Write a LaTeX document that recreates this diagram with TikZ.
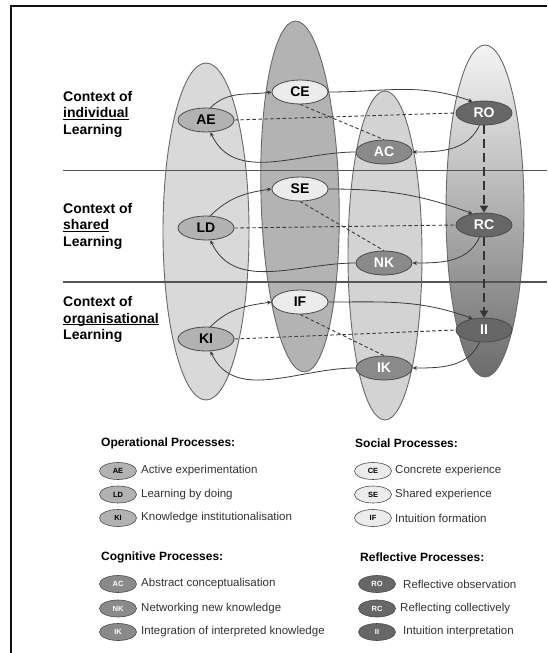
\documentclass[tikz,border=0pt]{standalone}
\usepackage{fontspec}
\setmainfont{Liberation Sans}
\usetikzlibrary{shapes.geometric,arrows.meta}

% palette
\definecolor{framecol}{HTML}{111111}
\definecolor{coledge}{HTML}{6A6A6A}
\definecolor{colA}{HTML}{D9D9D9}
\definecolor{colB}{HTML}{B3B3B3}
\definecolor{colC}{HTML}{D3D3D3}
\definecolor{colDtop}{HTML}{F4F4F4}
\definecolor{colDbot}{HTML}{6C6C6C}
\definecolor{nodeedge}{HTML}{4A4A4A}
\definecolor{opfill}{HTML}{B2B2B2}
\definecolor{sofill}{HTML}{ECECEC}
\definecolor{cofill}{HTML}{8A8A8A}
\definecolor{refill}{HTML}{676767}
\definecolor{ringgray}{HTML}{3A3A3A}
\definecolor{dropgray}{HTML}{333333}
\definecolor{levelgray}{HTML}{555555}
\definecolor{legtext}{HTML}{333333}

% underline placed just under the baseline
\newcommand\ctxul[1]{\setbox0\hbox{#1}\rlap{\rule[-2.4pt]{\wd0}{1.3pt}}\box0}

\begin{document}
\begin{tikzpicture}[x=1pt,y=1pt,
  colshape/.style={draw=coledge,line width=0.9pt},
  proc/.style={ellipse,draw=nodeedge,line width=0.8pt,minimum width=56pt,
    minimum height=24pt,inner sep=0pt,font=\fontsize{14}{14}\selectfont\bfseries},
  op/.style={proc,fill=opfill,text=black},
  so/.style={proc,fill=sofill,text=black},
  co/.style={proc,fill=cofill,text=white},
  re/.style={proc,fill=refill,text=white},
  ring/.style={draw=ringgray,line width=0.8pt,-{Stealth[length=4.5pt,width=4pt]}},
  cross/.style={draw=ringgray,line width=0.9pt,dash pattern=on 3.5pt off 2.5pt},
  drop/.style={draw=dropgray,line width=2pt,dash pattern=on 9pt off 5pt,
    -{Triangle[length=7pt,width=8pt]}},
  levelline/.style={draw=levelgray,line width=1.3pt},
  ctx/.style={anchor=west,align=left,inner sep=0pt,
    font=\fontsize{14}{16.5}\selectfont\bfseries},
  lkey/.style={ellipse,draw=nodeedge,line width=0.6pt,minimum width=37pt,
    minimum height=17pt,inner sep=0pt,font=\fontsize{7.5}{7.5}\selectfont\bfseries},
  lop/.style={lkey,fill=opfill,text=black},
  lso/.style={lkey,fill=sofill,text=black},
  lco/.style={lkey,fill=cofill,text=white},
  lre/.style={lkey,fill=refill,text=white},
  lhead/.style={anchor=west,inner sep=0pt,font=\fontsize{12}{12}\selectfont\bfseries},
  ltext/.style={anchor=west,inner sep=0pt,text=legtext,font=\fontsize{11.5}{11.5}\selectfont}
]
\useasboundingbox (0,0) rectangle (547,-653);
\fill[white] (0,0) rectangle (547,-653);

% frame
\draw[framecol,line width=2pt] (11,-653) -- (11,-6) -- (547,-6);

% the four process columns
\path[colshape,fill=colA] (206,-231.5) ellipse[x radius=43,y radius=168.5];
\path[colshape,fill=colB,rotate around={1.5:(300,-196.5)}] (300,-196.5) ellipse[x radius=39,y radius=175.5];
\path[colshape,fill=colC] (385,-255.5) ellipse[x radius=37,y radius=164.5];
\path[colshape,top color=colDtop,bottom color=colDbot] (485,-211) ellipse[x radius=39,y radius=166];

% context separators
\draw[levelline] (63,-170.5) -- (547,-170.5);
\draw[levelline] (63,-282) -- (547,-282);

% context labels
\node[ctx] (ctx1) at (63,-114) {Context of\\\ctxul{individual}\\Learning};
\node[ctx] (ctx2) at (63,-226) {Context of\\\ctxul{shared}\\Learning};
\node[ctx] (ctx3) at (63,-319.5) {Context of\\\ctxul{organisational}\\Learning};

% processes
\node[op] (AE) at (206,-120) {AE};
\node[so] (CE) at (300,-92) {CE};
\node[re] (RO) at (484,-113) {RO};
\node[co] (AC) at (384,-152) {AC};

\node[op] (LD) at (206,-228) {LD};
\node[so] (SE) at (300,-189) {SE};
\node[re] (RC) at (484,-225) {RC};
\node[co] (NK) at (384,-263) {NK};

\node[op] (KI) at (206,-339) {KI};
\node[so] (IF) at (300,-302) {IF};
\node[re] (II) at (484,-330) {II};
\node[co] (IK) at (384,-368) {IK};

% learning cycles
\draw[ring] (AE.70) to[out=45,in=188] (CE.west);
\draw[ring] (CE.east) to[out=0,in=160] (RO.135);
\draw[ring] (RO.-110) to[out=-115,in=0] (AC.east);
\draw[ring] (AC.west) to[out=180,in=-65] (AE.-70);

\draw[ring] (LD.70) to[out=45,in=188] (SE.west);
\draw[ring] (SE.east) to[out=0,in=160] (RC.135);
\draw[ring] (RC.-110) to[out=-115,in=0] (NK.east);
\draw[ring] (NK.west) to[out=180,in=-65] (LD.-70);

\draw[ring] (KI.70) to[out=45,in=188] (IF.west);
\draw[ring] (IF.east) to[out=0,in=160] (II.135);
\draw[ring] (II.-110) to[out=-115,in=0] (IK.east);
\draw[ring] (IK.west) to[out=180,in=-65] (KI.-70);

% cross links
\draw[cross] (AE.east) -- (RO.west);
\draw[cross] (CE.south) -- (AC.north);
\draw[cross] (LD.east) -- (RC.west);
\draw[cross] (SE.south) -- (NK.north);
\draw[cross] (KI.east) -- (II.west);
\draw[cross] (IF.south) -- (IK.north);

% reflection passes down the levels
\draw[drop] (RO.south) -- (RC.north);
\draw[drop] (RC.south) -- (II.north);

% legend
\node[lhead] (hop) at (101,-443) {Operational Processes:};
\node[lop] (kAE) at (118,-471) {AE};
\node[lop] (kLD) at (118,-494.5) {LD};
\node[lop] (kKI) at (118,-518) {KI};
\node[ltext] (tAE) at (141,-471) {Active experimentation};
\node[ltext] (tLD) at (141,-494.5) {Learning by doing};
\node[ltext] (tKI) at (141,-518) {Knowledge institutionalisation};

\node[lhead] (hso) at (355,-443) {Social Processes:};
\node[lso] (kCE) at (373,-471) {CE};
\node[lso] (kSE) at (373,-494.5) {SE};
\node[lso] (kIF) at (373,-518) {IF};
\node[ltext] (tCE) at (395,-471) {Concrete experience};
\node[ltext] (tSE) at (395,-494.5) {Shared experience};
\node[ltext] (tIF) at (395,-518) {Intuition formation};

\node[lhead] (hco) at (101,-557) {Cognitive Processes:};
\node[lco] (kAC) at (118,-584) {AC};
\node[lco] (kNK) at (118,-608.5) {NK};
\node[lco] (kIK) at (118,-632) {IK};
\node[ltext] (tAC) at (141,-584) {Abstract conceptualisation};
\node[ltext] (tNK) at (141,-608.5) {Networking new knowledge};
\node[ltext] (tIK) at (141,-632) {Integration of interpreted knowledge};

\node[lhead] (hre) at (360,-557) {Reflective Processes:};
\node[lre] (kRO) at (377,-584) {RO};
\node[lre] (kRC) at (377,-608.5) {RC};
\node[lre] (kII) at (377,-632) {II};
\node[ltext] (tRO) at (403,-584) {Reflective observation};
\node[ltext] (tRC) at (400,-608.5) {Reflecting collectively};
\node[ltext] (tII) at (403,-632) {Intuition interpretation};
\end{tikzpicture}
\end{document}
